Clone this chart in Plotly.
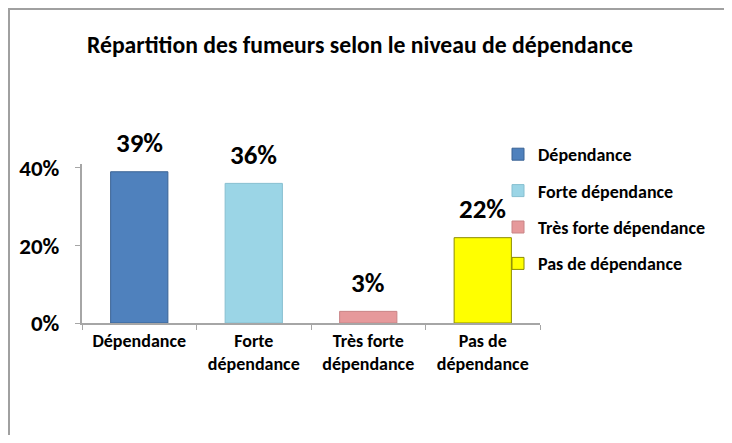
import plotly.graph_objects as go

categories = ["Dépendance", "Forte<br>dépendance", "Très forte<br>dépendance", "Pas de<br>dépendance"]
legend_names = ["Dépendance", "Forte dépendance", "Très forte dépendance", "Pas de dépendance"]
values = [39, 36, 3, 22]
value_labels = ["39%", "36%", "3%", "22%"]
colors = ["#4F81BD", "#9BD5E6", "#E6999B", "#FFFF00"]
edge_colors = ["#3A6394", "#86BFD0", "#C98486", "#8C8C00"]
y_ticks = [0, 20, 40]
y_tick_labels = ["0%", "20%", "40%"]

FONT = "Carlito, Calibri, Lato, sans-serif"

fig = go.Figure()
for i in range(len(categories)):
    fig.add_trace(go.Bar(
        x=[categories[i]], y=[values[i]], name=f"<b>{legend_names[i]}</b>",
        marker=dict(color=colors[i], line=dict(color=edge_colors[i], width=1)),
        width=0.5, legendgroup=f"g{i}",
    ))
    fig.add_annotation(x=categories[i], y=values[i], text=f"<b>{value_labels[i]}</b>",
                       showarrow=False, yanchor="middle", yshift=29,
                       font=dict(family=FONT, size=27, color="#000000"))

# page is drawn with an 8px body margin, so figure coords = picture coords - 8;
# the figure is sized so that the page does not overflow the window
W, H = 716, 427
YMAX = 41
L, R = 74, 184
B = H - 315
T = int(round(315 - YMAX * 3.875))
pw = W - L - R
ph = H - T - B
px = lambda v: (v - L) / pw
py = lambda v: (H - B - v) / ph
# outer frame of the chart area (top and left edges are the visible ones)
frame = dict(color="#A0A0A0", width=2)
fig.add_shape(type="line", xref="paper", yref="paper", x0=px(0), x1=px(W),
              y0=py(1), y1=py(1), line=frame, layer="below")
fig.add_shape(type="line", xref="paper", yref="paper", x0=px(1), x1=px(1),
              y0=py(0), y1=py(H), line=frame, layer="below")

fig.update_layout(
    width=W, height=H,
    margin=dict(l=L, r=R, t=T, b=B, autoexpand=False),
    paper_bgcolor="white", plot_bgcolor="white",
    barmode="overlay",
    title=dict(text="<b>Répartition des fumeurs selon le niveau de dépendance</b>",
               xref="container", x=79 / W, xanchor="left",
               yref="container", y=1 - 37 / H, yanchor="middle",
               pad=dict(l=0, r=0, t=0, b=0),
               font=dict(family=FONT, size=23.7, color="#000000")),
    legend=dict(xref="paper", yref="paper", x=px(490), y=py(128),
                xanchor="left", yanchor="top", tracegroupgap=10, itemwidth=30,
                bgcolor="rgba(0,0,0,0)",
                font=dict(family=FONT, size=18, color="#000000"),
                itemclick=False),
    xaxis=dict(showline=True, linecolor="#A6A6A6", linewidth=2,
               ticks="outside", tickson="boundaries", ticklen=5, tickcolor="#A6A6A6",
               tickfont=dict(family=FONT, size=18, color="#000000"),
               showgrid=False, range=[-0.5, 3.5]),
    yaxis=dict(range=[0, YMAX], tickvals=y_ticks, ticktext=[f"<b>{t}</b>" for t in y_tick_labels],
               showline=True, linecolor="#A6A6A6", linewidth=2,
               ticks="outside", ticklen=5, tickcolor="#A6A6A6", ticklabelstandoff=11,
               tickfont=dict(family=FONT, size=23, color="#000000"),
               showgrid=False, zeroline=False),
    showlegend=True,
)
fig.update_xaxes(tickvals=categories, ticktext=[f"<b>{c}</b>" for c in categories])
fig.write_html("out.html", config={"displayModeBar": False})
